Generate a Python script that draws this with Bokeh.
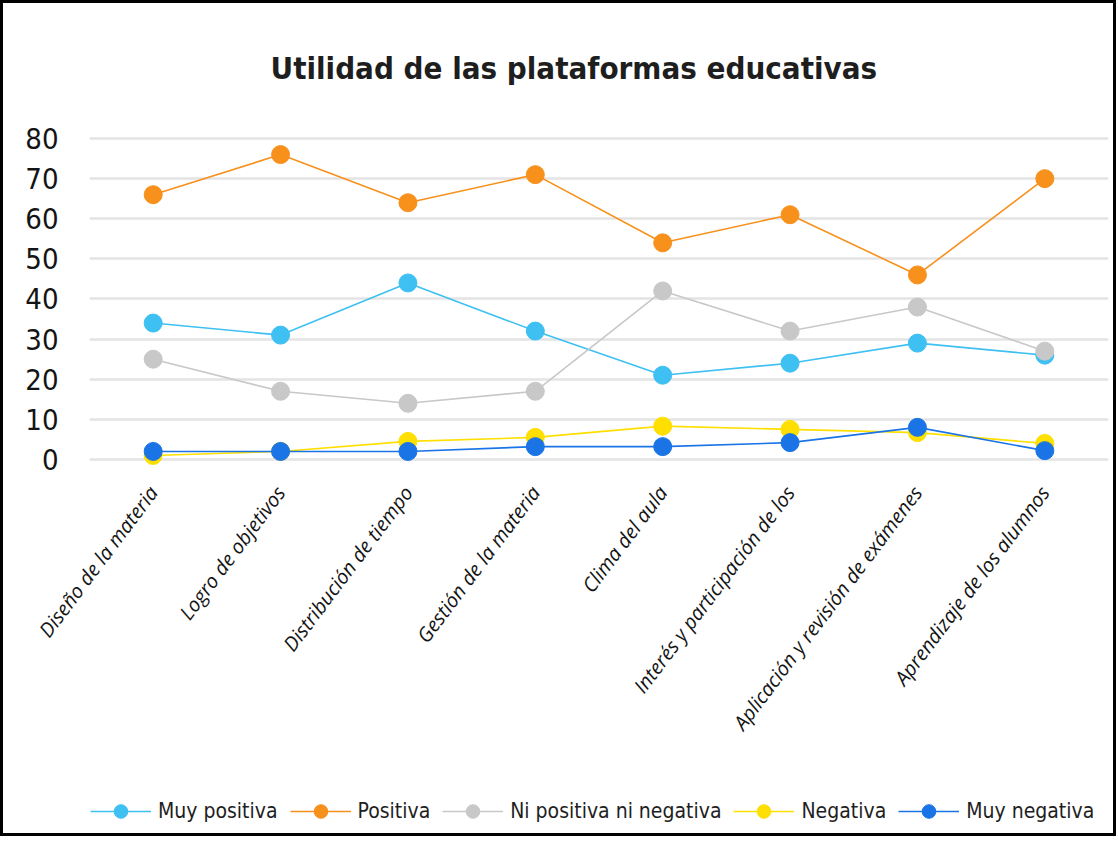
from bokeh.plotting import figure
from bokeh.layouts import column
from bokeh.models import FactorRange, Range1d, FixedTicker, Legend, LegendItem
from bokeh.embed import file_html
from bokeh.resources import INLINE

categories = [
    "Diseño de la materia",
    "Logro de objetivos",
    "Distribución de tiempo",
    "Gestión de la materia",
    "Clima del aula",
    "Interés y participación de los",
    "Aplicación y revisión de exámenes",
    "Aprendizaje de los alumnos",
]
muy_positiva = [34, 31, 44, 32, 21, 24, 29, 26]
positiva = [66, 76, 64, 71, 54, 61, 46, 70]
ni_positiva_ni_negativa = [25, 17, 14, 17, 42, 32, 38, 27]
negativa = [1, 2, 4.5, 5.5, 8.3, 7.5, 6.7, 4]
muy_negativa = [2, 2, 2, 3.2, 3.2, 4.2, 8, 2.2]

series_names = ["Muy positiva", "Positiva", "Ni positiva ni negativa", "Negativa", "Muy negativa"]
series_values = [muy_positiva, positiva, ni_positiva_ni_negativa, negativa, muy_negativa]
series_colors = ["#3fc0f2", "#f7911c", "#c8c8c8", "#ffdf00", "#1a74e6"]
y_ticks = [0, 10, 20, 30, 40, 50, 60, 70, 80]

COND = "DejaVu Sans Condensed"

p = figure(
    width=1110, height=790,
    x_range=FactorRange(*categories, range_padding=0),
    y_range=Range1d(-3, 82),
    output_backend="svg", toolbar_location=None,
    min_border_left=86, min_border_right=5,
    min_border_top=126, min_border_bottom=322,
)
p.outline_line_color = None

p.title.text = "Utilidad de las plataformas educativas"
p.title.align = "left"
p.title.offset = 181
p.title.standoff = 89
p.title.text_font = COND
p.title.text_font_style = "bold"
p.title.text_font_size = "31px"
p.title.text_color = "#1e1e1e"

p.xgrid.grid_line_color = None
p.ygrid.ticker = FixedTicker(ticks=y_ticks)
p.ygrid.grid_line_color = "#e4e4e4"
p.ygrid.grid_line_width = 2.5

p.yaxis.ticker = FixedTicker(ticks=y_ticks)
p.yaxis.axis_line_color = None
p.yaxis.major_tick_line_color = None
p.yaxis.minor_tick_line_color = None
p.yaxis.major_tick_out = 0
p.yaxis.major_label_standoff = 31
p.yaxis.major_label_text_font = COND
p.yaxis.major_label_text_font_size = "29px"
p.yaxis.major_label_text_color = "#141414"

p.xaxis.axis_line_color = None
p.xaxis.major_tick_line_color = None
p.xaxis.minor_tick_line_color = None
p.xaxis.major_tick_out = 0
p.xaxis.major_label_standoff = 17
p.xaxis.major_label_orientation = 0.925
p.xaxis.major_label_text_font = "Open Sans"
p.xaxis.major_label_text_font_style = "italic"
p.xaxis.major_label_text_font_size = "20px"
p.xaxis.major_label_text_color = "#141414"

for name, vals, col in zip(series_names, series_values, series_colors):
    p.line(categories, vals, line_color=col, line_width=1.6)
    p.scatter(categories, vals, size=18, fill_color=col, line_color=col, line_width=1)

# legend strip (proxy renderers sit outside its visible range)
lg = figure(
    width=1110, height=40,
    x_range=FactorRange(*categories, range_padding=0),
    y_range=Range1d(1000, 1001),
    output_backend="svg", toolbar_location=None,
    x_axis_location=None, y_axis_location=None,
    min_border=0,
)
lg.outline_line_color = None
lg.grid.grid_line_color = None

items = []
for name, vals, col in zip(series_names, series_values, series_colors):
    ln = lg.line(categories, vals, line_color=col, line_width=1.6)
    sc = lg.scatter(categories, vals, size=18, fill_color=col, line_color=col, line_width=1)
    items.append(LegendItem(label=name, renderers=[ln, sc]))

legend = Legend(items=items, orientation="horizontal", location=(1, 5))
legend.glyph_width = 61
legend.glyph_height = 34
legend.label_standoff = 7
legend.spacing = 12
legend.padding = 0
legend.margin = 0
legend.border_line_color = None
legend.background_fill_alpha = 0
legend.label_text_font = COND
legend.label_text_font_size = "21px"
legend.label_text_color = "#1e1e1e"
lg.add_layout(legend)

layout = column(p, lg, spacing=0, styles={"border": "3px solid black"})

open("out.html", "w").write(file_html(layout, INLINE))
